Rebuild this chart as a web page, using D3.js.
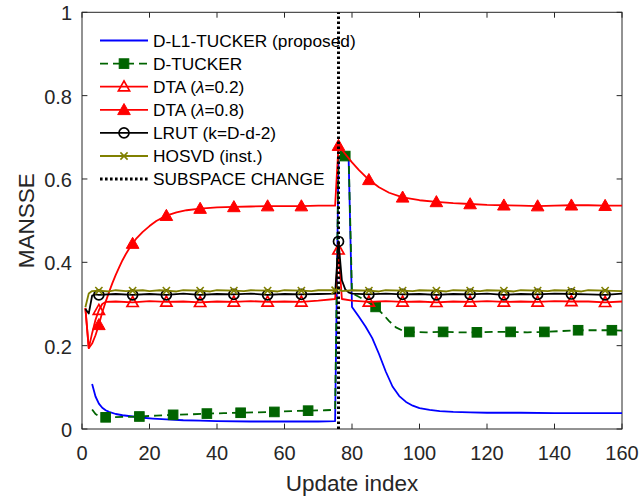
<!DOCTYPE html>
<html>
<head>
<meta charset="utf-8">
<script src="https://cdn.jsdelivr.net/npm/d3@7"></script>
<style>
  html, body { margin: 0; padding: 0; background: #fff; }
  svg { display: block; font-family: "Liberation Sans", Arial, Helvetica, sans-serif; }
</style>
</head>
<body>
<svg id="chart" width="641" height="496"></svg>
<script>
// Axis ticks
const xTicks = [0, 20, 40, 60, 80, 100, 120, 140, 160];
const yTicks = [0, 0.2, 0.4, 0.6, 0.8, 1];
const subspaceChange = 76;

// MANSSE per update index: [index, value]
const dL1Tucker = [[3,0.108],[4,0.078],[5,0.061],[6,0.051],[7,0.045],[8,0.041],[10,0.036],[12,0.033],[15,0.030],[18,0.027],[21,0.025],[25,0.023],[30,0.021],[35,0.020],[40,0.019],[50,0.018],[60,0.018],[70,0.018],[75,0.019],[76,0.650],[79,0.650],[80,0.293],[82,0.270],[84,0.246],[86,0.218],[88,0.180],[90,0.138],[92,0.102],[94,0.079],[96,0.065],[98,0.056],[100,0.050],[103,0.046],[106,0.043],[110,0.041],[115,0.040],[120,0.039],[130,0.039],[140,0.038],[150,0.038],[160,0.038]];

const dTucker = [[3,0.047],[4,0.036],[5,0.031],[7,0.028],[12,0.029],[17,0.030],[22,0.032],[27,0.034],[32,0.035],[37,0.037],[42,0.038],[47,0.039],[52,0.040],[57,0.041],[62,0.043],[67,0.044],[72,0.045],[75,0.046],[76,0.655],[78,0.655],[79,0.655],[80,0.326],[83,0.313],[85,0.303],[87,0.293],[89,0.277],[91,0.259],[93,0.244],[95,0.236],[97,0.233],[102,0.232],[107,0.233],[112,0.232],[117,0.232],[122,0.233],[127,0.233],[132,0.232],[137,0.233],[142,0.235],[147,0.237],[152,0.237],[157,0.237],[160,0.236]];

const dtaLow = [[1,0.290],[2,0.194],[3,0.230],[4,0.262],[5,0.285],[6,0.300],[7,0.305],[10,0.306],[15,0.304],[20,0.307],[25,0.305],[30,0.306],[35,0.304],[40,0.306],[45,0.305],[50,0.307],[55,0.305],[60,0.306],[65,0.305],[70,0.308],[75,0.312],[76,0.430],[77,0.312],[80,0.308],[85,0.305],[90,0.307],[95,0.305],[100,0.306],[105,0.304],[110,0.306],[115,0.305],[120,0.307],[125,0.305],[130,0.306],[135,0.305],[140,0.307],[145,0.306],[150,0.306],[155,0.304],[160,0.306]];

const dtaHigh = [[1,0.290],[2,0.194],[3,0.205],[4,0.225],[5,0.250],[6,0.280],[7,0.305],[8,0.328],[9,0.350],[10,0.370],[11,0.388],[12,0.405],[13,0.420],[14,0.433],[15,0.445],[16,0.456],[18,0.473],[20,0.487],[22,0.499],[25,0.512],[28,0.520],[31,0.525],[35,0.529],[40,0.532],[45,0.533],[50,0.534],[55,0.535],[60,0.535],[65,0.535],[70,0.536],[75,0.536],[76,0.680],[78,0.660],[80,0.640],[82,0.622],[85,0.598],[88,0.580],[91,0.567],[95,0.556],[100,0.549],[105,0.545],[110,0.542],[115,0.540],[120,0.538],[125,0.537],[130,0.536],[135,0.535],[140,0.536],[145,0.537],[150,0.537],[155,0.536],[160,0.536]];

const lrut = [[1,0.288],[2,0.277],[3,0.320],[4,0.323],[5,0.322],[10,0.324],[15,0.322],[20,0.324],[25,0.322],[30,0.325],[35,0.322],[40,0.324],[45,0.323],[50,0.325],[55,0.322],[60,0.324],[65,0.323],[70,0.324],[75,0.325],[76,0.450],[77,0.357],[78,0.335],[79,0.328],[80,0.325],[85,0.323],[90,0.325],[95,0.323],[100,0.324],[105,0.322],[110,0.324],[115,0.323],[120,0.325],[125,0.322],[130,0.324],[135,0.323],[140,0.325],[145,0.324],[150,0.323],[155,0.322],[160,0.325]];

const hosvd = [[1,0.292],[2,0.325],[3,0.331],[5,0.332],[8,0.330],[10,0.333],[13,0.331],[15,0.332],[18,0.333],[20,0.331],[23,0.333],[25,0.332],[28,0.330],[30,0.333],[35,0.332],[38,0.330],[40,0.333],[45,0.332],[48,0.331],[50,0.333],[55,0.332],[58,0.330],[60,0.333],[65,0.332],[68,0.331],[70,0.333],[75,0.333],[76,0.336],[77,0.331],[80,0.333],[85,0.332],[88,0.330],[90,0.333],[95,0.332],[98,0.331],[100,0.333],[105,0.332],[108,0.330],[110,0.333],[115,0.332],[118,0.331],[120,0.333],[125,0.332],[128,0.330],[130,0.333],[135,0.332],[138,0.331],[140,0.333],[145,0.332],[148,0.330],[150,0.333],[155,0.332],[160,0.331]];

// Indices that carry a marker
const markersEvery10 = [5,15,25,35,45,55,65,76,85,95,105,115,125,135,145,155];
const markersTucker = [7,17,27,37,47,57,67,78,87,97,107,117,127,137,147,157];
const markersHosvd = [5,15,25,35,45,55,65,75,85,95,105,115,125,135,145,155];

const legendLabels = ["D-L1-TUCKER (proposed)", "D-TUCKER", "DTA (λ=0.2)", "DTA (λ=0.8)", "LRUT (k=D-d-2)", "HOSVD (inst.)", "SUBSPACE CHANGE"];

const series = [
  { label: legendLabels[0], data: dL1Tucker, color: "#0000ff", dash: null, marker: null, marks: [] },
  { label: legendLabels[1], data: dTucker, color: "#006400", dash: "8,5", marker: "square", marks: markersTucker },
  { label: legendLabels[2], data: dtaLow, color: "#ff0000", dash: null, marker: "triOpen", marks: markersEvery10 },
  { label: legendLabels[3], data: dtaHigh, color: "#ff0000", dash: null, marker: "triFilled", marks: markersEvery10 },
  { label: legendLabels[4], data: lrut, color: "#000000", dash: null, marker: "circle", marks: markersEvery10 },
  { label: legendLabels[5], data: hosvd, color: "#808000", dash: null, marker: "cross", marks: markersHosvd }
];

const svg = d3.select("#chart");
const axisColor = "#262626";
const plotLeft = 82, plotRight = 622, plotTop = 12.3, plotBottom = 429;

const x = d3.scaleLinear().domain([0, 160]).range([plotLeft, plotRight]);
const y = d3.scaleLinear().domain([0, 1]).range([plotBottom, plotTop]);

// Marker shapes drawn at (0,0)
function addMarker(g, type, color) {
  if (type === "square") {
    g.append("rect").attr("x", -4.8).attr("y", -4.8).attr("width", 9.6).attr("height", 9.6)
      .attr("fill", color).attr("stroke", color).attr("stroke-width", 1);
  } else if (type === "triOpen") {
    g.append("path").attr("d", "M0,-5.8L5.6,4.2L-5.6,4.2Z")
      .attr("fill", "none").attr("stroke", color).attr("stroke-width", 1.7);
  } else if (type === "triFilled") {
    g.append("path").attr("d", "M0,-6.3L6.3,4.8L-6.3,4.8Z")
      .attr("fill", color).attr("stroke", color).attr("stroke-width", 1);
  } else if (type === "circle") {
    g.append("circle").attr("r", 5).attr("fill", "none").attr("stroke", color).attr("stroke-width", 1.7);
  } else if (type === "cross") {
    g.append("path").attr("d", "M-3.6,-3.6L3.6,3.6M-3.6,3.6L3.6,-3.6")
      .attr("fill", "none").attr("stroke", color).attr("stroke-width", 1.6);
  }
}

// Axes box with inward ticks
const axisG = svg.append("g");
axisG.append("rect").attr("x", plotLeft).attr("y", plotTop).attr("width", plotRight - plotLeft).attr("height", plotBottom - plotTop)
  .attr("fill", "none").attr("stroke", axisColor).attr("stroke-width", 1);

const tickLen = 5.4;
xTicks.forEach(t => {
  const px = x(t);
  axisG.append("line").attr("x1", px).attr("x2", px).attr("y1", plotBottom).attr("y2", plotBottom - tickLen)
    .attr("stroke", axisColor).attr("stroke-width", 1);
  axisG.append("line").attr("x1", px).attr("x2", px).attr("y1", plotTop).attr("y2", plotTop + tickLen)
    .attr("stroke", axisColor).attr("stroke-width", 1);
  axisG.append("text").attr("x", px).attr("y", plotBottom + 31).attr("text-anchor", "middle")
    .attr("font-size", 20).attr("fill", axisColor).text(d3.format("d")(t));
});
yTicks.forEach(t => {
  const py = y(t);
  axisG.append("line").attr("x1", plotLeft).attr("x2", plotLeft + tickLen).attr("y1", py).attr("y2", py)
    .attr("stroke", axisColor).attr("stroke-width", 1);
  axisG.append("line").attr("x1", plotRight).attr("x2", plotRight - tickLen).attr("y1", py).attr("y2", py)
    .attr("stroke", axisColor).attr("stroke-width", 1);
  axisG.append("text").attr("x", plotLeft - 10).attr("y", py + 8).attr("text-anchor", "end")
    .attr("font-size", 20).attr("fill", axisColor).text(t === 0 || t === 1 ? String(t) : d3.format(".1f")(t));
});

svg.append("text").attr("x", (plotLeft + plotRight) / 2).attr("y", 491).attr("text-anchor", "middle")
  .attr("font-size", 22.5).attr("fill", axisColor).text("Update index");
svg.append("text").attr("transform", "translate(34," + ((plotTop + plotBottom) / 2) + ") rotate(-90)")
  .attr("text-anchor", "middle").attr("font-size", 22.5).attr("fill", axisColor).text("MANSSE");

// Series lines and markers
const line = d3.line().x(d => x(d[0])).y(d => y(d[1]));
const plotG = svg.append("g");
series.forEach(s => {
  plotG.append("path").datum(s.data).attr("d", line)
    .attr("fill", "none").attr("stroke", s.color).attr("stroke-width", 1.8)
    .attr("stroke-linejoin", "round")
    .attr("stroke-dasharray", s.dash);
  if (s.marker) {
    const lookup = new Map(s.data.map(d => [d[0], d[1]]));
    s.marks.forEach(i => {
      const g = plotG.append("g").attr("transform", `translate(${x(i)},${y(lookup.get(i))})`);
      addMarker(g, s.marker, s.color);
    });
  }
});

// Subspace change marker line
plotG.append("line").attr("x1", x(subspaceChange)).attr("x2", x(subspaceChange))
  .attr("y1", y(0)).attr("y2", y(1))
  .attr("stroke", "#000").attr("stroke-width", 3).attr("stroke-dasharray", "2.6,2.4");

// Legend
const legG = svg.append("g");
const legX0 = 100, legX1 = 148, legTextX = 153, legY0 = 40.5, legStep = 23.1;
series.forEach((s, k) => {
  const ly = legY0 + k * legStep;
  legG.append("line").attr("x1", legX0).attr("x2", legX1).attr("y1", ly).attr("y2", ly)
    .attr("stroke", s.color).attr("stroke-width", 1.8).attr("stroke-dasharray", s.dash);
  if (s.marker) {
    const g = legG.append("g").attr("transform", `translate(${(legX0 + legX1) / 2},${ly})`);
    addMarker(g, s.marker, s.color);
  }
  const t = legG.append("text").attr("x", legTextX).attr("y", ly + 6.2).attr("font-size", 17.3).attr("fill", "#000");
  const parts = s.label.split("λ");
  t.append("tspan").text(parts[0]);
  if (parts.length > 1) {
    t.append("tspan").attr("font-style", "italic").text("λ");
    t.append("tspan").text(parts[1]);
  }
});
const lyLast = legY0 + series.length * legStep;
legG.append("line").attr("x1", legX0).attr("x2", legX1).attr("y1", lyLast).attr("y2", lyLast)
  .attr("stroke", "#000").attr("stroke-width", 3).attr("stroke-dasharray", "2.6,2.4");
legG.append("text").attr("x", legTextX).attr("y", lyLast + 6.2).attr("font-size", 17.3).attr("fill", "#000")
  .text(legendLabels[6]);
</script>
</body>
</html>
